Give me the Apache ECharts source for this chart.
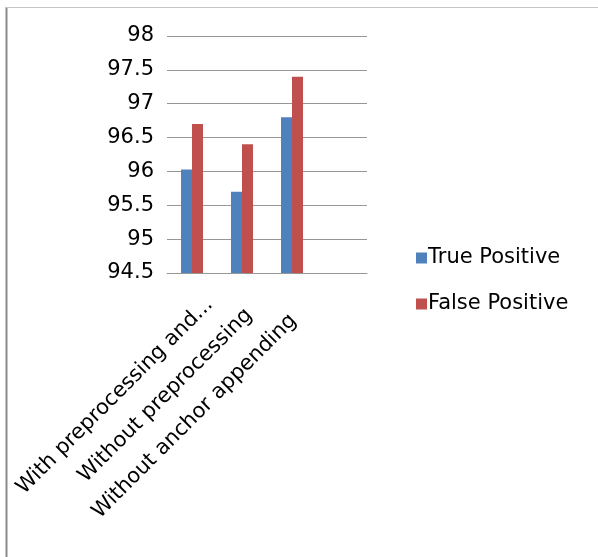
<!DOCTYPE html>
<html style="height: 100%">
<head>
<meta charset="utf-8">
</head>
<body style="height: 100%; margin: 0; background: #fff">
<div id="container" style="width: 598px; height: 557px"></div>
<script type="text/javascript" src="https://cdn.jsdelivr.net/npm/echarts@6/dist/echarts.min.js"></script>
<script type="text/javascript">
var categories = ['With preprocessing and...', 'Without preprocessing', 'Without anchor appending', ''];
var truePositive = [96.03, 95.7, 96.8, null];
var falsePositive = [96.7, 96.4, 97.4, null];
var yMin = 94.5, yMax = 98, yStep = 0.5;

var font = "'DejaVu Sans', sans-serif";
var gridColor = '#969696';

// excel puts the rotated labels a bit off from each other, nudge them along the text
var labelShift = [-25, -10, -2, 0];

var myChart = echarts.init(document.getElementById('container'));

var option = {
    backgroundColor: '#fff',
    animation: false,
    graphic: [
        { type: 'line', shape: { x1: 6.5, y1: 7, x2: 6.5, y2: 557 }, style: { stroke: '#8a8a8a', lineWidth: 2 } },
        { type: 'line', shape: { x1: 6, y1: 7.5, x2: 598, y2: 7.5 }, style: { stroke: '#c4c4c4', lineWidth: 1 } }
    ],
    grid: { left: 167, right: 231, top: 36, bottom: 284, containLabel: false },
    legend: {
        orient: 'vertical',
        left: 411,
        top: 241,
        icon: 'rect',
        itemWidth: 11,
        itemHeight: 11,
        itemGap: 22,
        textStyle: { fontFamily: font, fontSize: 21, color: '#000', padding: [0, 0, 0, -4], lineHeight: 24 },
        data: ['True Positive', 'False Positive']
    },
    xAxis: {
        type: 'category',
        data: categories.map(function (c, i) {
            return { value: c, textStyle: { padding: [0, labelShift[i], 0, 0] } };
        }),
        axisLine: { lineStyle: { color: gridColor, width: 1 } },
        axisTick: { lineStyle: { color: gridColor }, length: 6 },
        axisLabel: {
            rotate: 45,
            interval: 0,
            margin: 46,
            fontFamily: font,
            fontSize: 21,
            color: '#000'
        }
    },
    yAxis: {
        type: 'value',
        min: yMin,
        max: yMax,
        interval: yStep,
        axisLine: { show: false },
        axisTick: { show: false },
        splitLine: { lineStyle: { color: gridColor, width: 1 } },
        axisLabel: { margin: 13, fontFamily: font, fontSize: 21, color: '#000' }
    },
    series: [
        {
            name: 'True Positive',
            type: 'bar',
            data: truePositive,
            barWidth: 11,
            barGap: '0%',
            itemStyle: { color: '#4F81BD' }
        },
        {
            name: 'False Positive',
            type: 'bar',
            data: falsePositive,
            barWidth: 11,
            barGap: '0%',
            itemStyle: { color: '#C0504D' }
        }
    ]
};

myChart.setOption(option);
</script>
</body>
</html>
